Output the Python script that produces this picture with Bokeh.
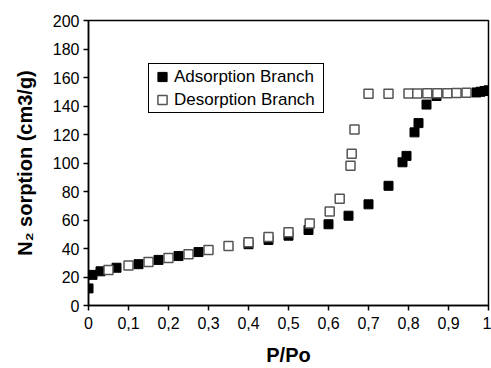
from bokeh.plotting import figure
from bokeh.models import FixedTicker, CustomJSTickFormatter, Range1d, Legend, LegendItem
from bokeh.embed import file_html
from bokeh.resources import INLINE

# Adsorption branch (filled squares)
ads_x = [0.0, 0.01, 0.03, 0.07, 0.125, 0.175, 0.225, 0.275, 0.40, 0.45, 0.50,
         0.55, 0.60, 0.65, 0.70, 0.75, 0.785, 0.795, 0.815, 0.825, 0.845, 0.87,
         0.97, 0.98, 0.99, 1.0]
ads_y = [12, 21.5, 24, 26.5, 29, 32, 34.7, 37.5, 43, 46, 49,
         53, 57, 63, 71, 84, 100.5, 105, 121.5, 128, 141, 147,
         149.5, 150, 150.5, 151]

# Desorption branch (open squares)
des_x = [0.05, 0.10, 0.15, 0.20, 0.25, 0.30, 0.35, 0.40, 0.45, 0.50,
         0.553, 0.603, 0.628, 0.655, 0.658, 0.665, 0.70, 0.75, 0.80, 0.822,
         0.847, 0.872, 0.897, 0.92, 0.945]
des_y = [25, 28, 30.5, 33.3, 36, 39, 41.7, 44.4, 48, 51.4,
         57.6, 66, 75, 98, 106.5, 123.5, 148.6, 148.6, 148.8, 148.8,
         148.9, 149, 149, 149.2, 149.3]

x_ticks = [0.0, 0.1, 0.2, 0.3, 0.4, 0.5, 0.6, 0.7, 0.8, 0.9, 1.0]
y_ticks = [0, 20, 40, 60, 80, 100, 120, 140, 160, 180, 200]

FONT = "Liberation Sans"

p = figure(width=491, height=368, output_backend="svg", toolbar_location=None,
           x_range=Range1d(0, 1), y_range=Range1d(0, 200),
           min_border_left=88, min_border_right=3, min_border_top=20, min_border_bottom=60)
p.xgrid.visible = False
p.ygrid.visible = False
p.outline_line_color = "black"
p.outline_line_width = 1.5
p.background_fill_color = "white"
p.border_fill_color = "white"

r_ads = p.scatter(ads_x, ads_y, marker="square", size=9, fill_color="black", line_color="black")
r_des = p.scatter(des_x, des_y, marker="square", size=9, fill_color="white", line_color="#555555",
                  line_width=1.5)

for ax in (p.xaxis[0], p.yaxis[0]):
    ax.axis_line_color = "black"
    ax.axis_line_width = 1.5
    ax.major_tick_line_color = "black"
    ax.major_tick_line_width = 1.5
    ax.major_tick_out = 5
    ax.major_tick_in = 0
    ax.minor_tick_line_color = None
    ax.major_label_text_font = FONT
    ax.major_label_text_font_size = "16px"
    ax.major_label_text_color = "black"
    ax.axis_label_text_font = FONT
    ax.axis_label_text_font_size = "20px"
    ax.axis_label_text_font_style = "bold"
    ax.axis_label_text_color = "black"

p.xaxis.ticker = FixedTicker(ticks=x_ticks)
p.yaxis.ticker = FixedTicker(ticks=y_ticks)
p.xaxis.formatter = CustomJSTickFormatter(code="""
    var s = (Math.round(tick * 10) / 10).toString();
    return s.replace('.', ',');
""")
p.xaxis.axis_label = "P/Po"
p.yaxis.axis_label = "N\u2082 sorption (cm3/g)"
p.xaxis.axis_label_standoff = 12
p.yaxis.axis_label_standoff = 14
p.xaxis.major_label_standoff = 6
p.yaxis.major_label_standoff = 4

legend = Legend(items=[LegendItem(label="Adsorption Branch", renderers=[r_ads]),
                       LegendItem(label="Desorption Branch", renderers=[r_des])],
                location=(60, 192))
legend.label_text_font = FONT
legend.label_text_font_size = "17px"
legend.label_text_color = "black"
legend.border_line_color = "black"
legend.border_line_width = 1
legend.border_line_alpha = 1
legend.background_fill_color = "white"
legend.background_fill_alpha = 1
legend.padding = 1
legend.margin = 0
legend.glyph_width = 24
legend.glyph_height = 23
legend.label_height = 23
legend.label_width = 148
legend.label_standoff = 0
legend.spacing = 0
p.add_layout(legend, "center")

open("out.html", "w").write(file_html(p, INLINE))
